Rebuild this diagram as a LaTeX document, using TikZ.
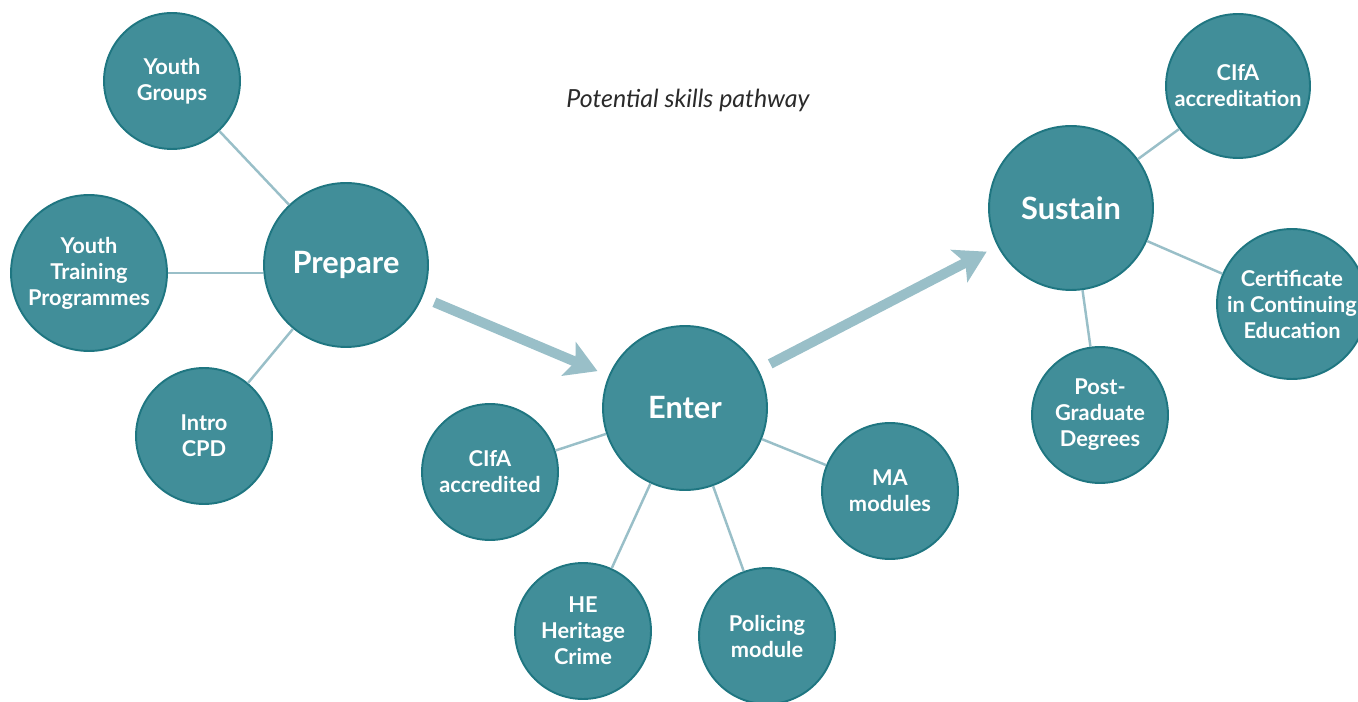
\documentclass[tikz,border=0pt]{standalone}
\usepackage{fontspec}
\setmainfont{Lato}
\usetikzlibrary{arrows.meta}
\definecolor{tealfill}{HTML}{418E99}
\definecolor{tealline}{HTML}{1F7681}
\definecolor{paleline}{HTML}{99BFC8}
\definecolor{titlegray}{HTML}{2A2A2A}
\begin{document}
\begin{tikzpicture}[x=0.02cm, y=-0.02cm]
       \tikzstyle{bubble} = [circle, draw=tealline, line width=1.1pt, fill=tealfill, text=white, font=\bfseries\fontsize{12.4}{14.8}\selectfont, align=center, inner sep=0pt, minimum size=2.72cm]
       \tikzstyle{stage} = [bubble, minimum size=3.28cm, font=\bfseries\fontsize{17.5}{20}\selectfont]
       \tikzstyle{link} = [draw=paleline, line width=1.4pt]
       \tikzstyle{flow} = [draw=paleline, line width=0.2cm, -{Stealth[length=0.62cm, width=0.72cm, inset=0.14cm]}, shorten <=0.26cm, shorten >=0.24cm]
       \useasboundingbox (0,0) rectangle (1358,702);
       \node[text=titlegray] (title) at (688,100) {\fontsize{14.2}{17}\selectfont\itshape Potential skills pathway};
       % three stages
       \node[stage] (prepare) at (346,265) {Prepare};
       \node[stage] (enter) at (685,408) {Enter};
       \node[stage] (sustain) at (1071,208) {Sustain};
       % options around each stage
       \node[bubble] (youth) at (172,81) {Youth\\Groups};
       \node[bubble, minimum size=3.12cm] (training) at (89,273) {Youth\\Training\\Programmes};
       \node[bubble] (intro) at (204,436) {Intro\\CPD};
       \node[bubble] (cifa) at (490,472) {CIfA\\accredited};
       \node[bubble] (he) at (583,631) {HE\\Heritage\\Crime};
       \node[bubble] (policing) at (767,636) {Policing\\module};
       \node[bubble] (ma) at (890,491) {MA\\modules};
       \node[bubble, minimum size=2.88cm] (accred) at (1238,86) {CIfA\\accreditation};
       \node[bubble, minimum size=3.0cm] (cert) at (1292,304) {Certificate\\in Continuing\\Education};
       \node[bubble] (postgrad) at (1100,415) {Post-\\Graduate\\Degrees};

        \foreach \i/\j in {prepare/youth,prepare/intro,enter/cifa,enter/he,enter/policing,enter/ma,sustain/accred,sustain/cert,sustain/postgrad}
        {
          \draw [link] (\i) -- (\j);
        }
        \draw [link] (training.east) -- (training.east -| prepare.west);
        \draw [flow] (prepare) -- (enter);
        \draw [flow] (enter) -- (sustain);

   \end{tikzpicture}
\end{document}
